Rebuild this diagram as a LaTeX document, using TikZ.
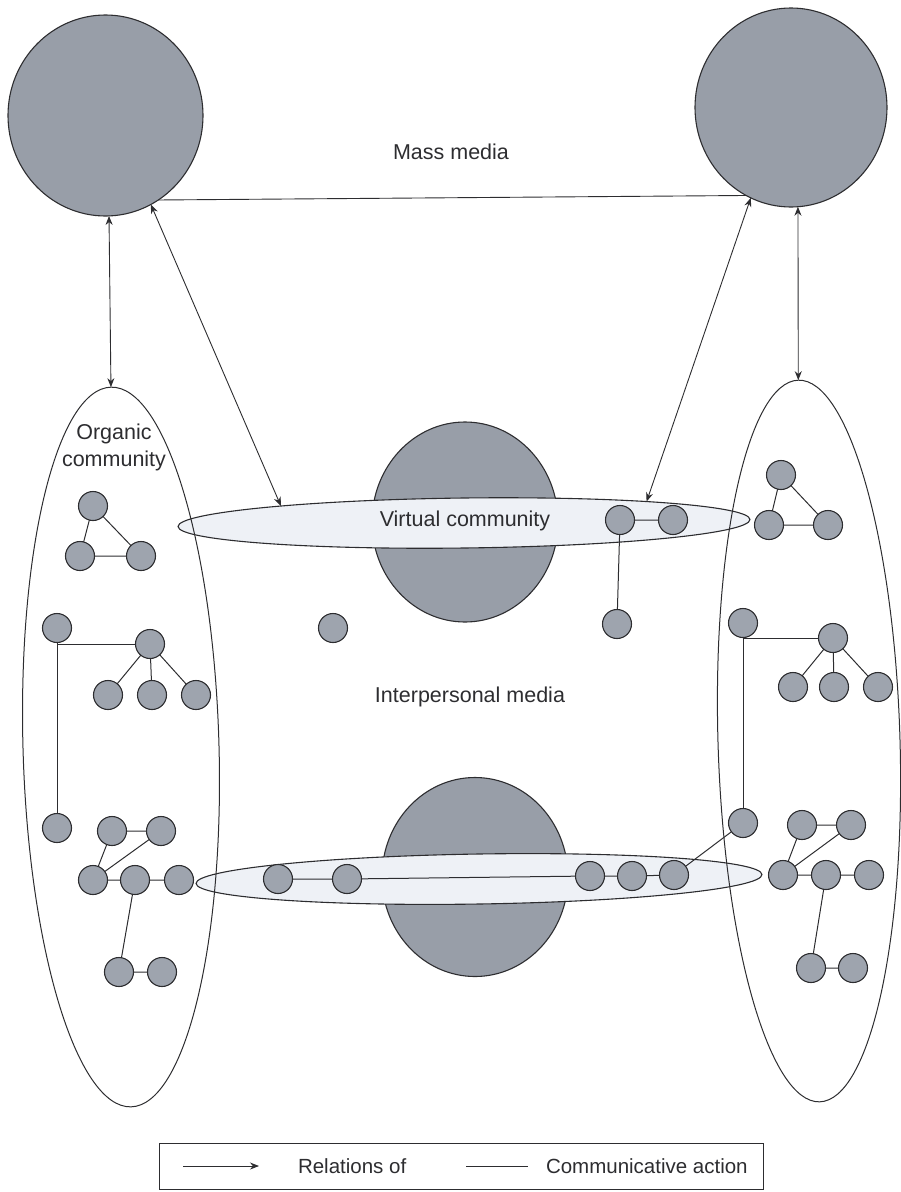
\documentclass[tikz,border=0pt]{standalone}
\usepackage{fontspec}
\setmainfont{Liberation Sans}
\usetikzlibrary{arrows.meta,shapes.geometric}

\definecolor{bigfill}{RGB}{152,158,168}
\definecolor{dotfill}{RGB}{158,164,174}
\definecolor{ringfill}{RGB}{238,241,246}
\definecolor{ink}{RGB}{45,45,48}

\begin{document}
\begin{tikzpicture}[x=1pt,y=-1pt,
  every node/.style={inner sep=0pt, outer sep=0pt},
  mediumdisc/.style={ellipse, draw=ink, line width=1.1pt, fill=bigfill},
  ringband/.style={ellipse, draw=ink, line width=1.1pt, fill=ringfill},
  commbound/.style={ellipse, draw=ink, line width=1pt},
  actordot/.style={circle, draw=ink, line width=1.1pt, fill=dotfill, minimum size=29pt},
  actlink/.style={draw=ink, line width=1pt},
  relarrow/.style={draw=ink, line width=0.9pt, {Stealth[length=9pt,width=7pt]}-{Stealth[length=9pt,width=7pt]}},
  lbltext/.style={font=\fontsize{21.5}{27}\selectfont, text=ink},
  legtext/.style={font=\fontsize{20.5}{24}\selectfont, text=ink}
]
\useasboundingbox (0,0) rectangle (901,1192);

% mass media
\node[mediumdisc, minimum width=195pt, minimum height=201pt] (mmL) at (105.5,115.5) {};
\node[mediumdisc, minimum width=192pt, minimum height=199pt] (mmR) at (791,107.5) {};

% interpersonal media discs
\node[mediumdisc, minimum width=186pt, minimum height=200pt] (ipU) at (465,522) {};
\node[mediumdisc, minimum width=186pt, minimum height=199pt] (ipD) at (475,877) {};

% virtual community bands
\node[ringband, minimum width=572pt, minimum height=50pt, rotate=0.7] (virt) at (464,523) {};
\node[ringband, minimum width=566pt, minimum height=50pt, rotate=0.9] (chain) at (479,879) {};

% organic communities
\node[commbound, minimum width=196pt, minimum height=720pt, rotate=1.6] (orgL) at (121,747) {};
\node[commbound, minimum width=182pt, minimum height=722pt, rotate=1.7] (orgR) at (809,741) {};

% labels
\node[lbltext] (massT) at (451,152) {Mass media};
\node[lbltext, align=center] (orgT) at (114,447) {Organic\\community};
\node[lbltext] (virtT) at (465,521) {Virtual community};
\node[lbltext] (ipT) at (470,697) {Interpersonal media};

% relations
\draw[draw=ink, line width=0.9pt] (mmL.-58) -- (mmR.-117);
\draw[relarrow] (mmL.-88) -- (orgL.north);
\draw[relarrow] (mmL.-63) -- (virt.174.5);
\draw[relarrow] (mmR.-114) -- (virt.6);
\draw[relarrow] (mmR.-86) -- (orgR.north);

% left community actors
\node[actordot] (lt1) at (93,506) {};
\node[actordot] (lt2) at (80,556) {};
\node[actordot] (lt3) at (141,556) {};
\node[actordot] (la) at (57,628) {};
\node[actordot] (lb) at (150,644) {};
\node[actordot] (lc1) at (108,695) {};
\node[actordot] (lc2) at (152,695) {};
\node[actordot] (lc3) at (196,695) {};
\node[actordot] (ld) at (57,828) {};
\node[actordot] (lp1) at (112,831) {};
\node[actordot] (lp2) at (161,831) {};
\node[actordot] (lr1) at (93,880) {};
\node[actordot] (lr2) at (135,880) {};
\node[actordot] (lr3) at (179,880) {};
\node[actordot] (lq1) at (119,972) {};
\node[actordot] (lq2) at (162,972) {};

% virtual and interpersonal actors
\node[actordot] (v1) at (620,520) {};
\node[actordot] (v2) at (673,520) {};
\node[actordot] (v3) at (617,624) {};
\node[actordot] (w1) at (333,628) {};
\node[actordot] (m1) at (278,879) {};
\node[actordot] (m2) at (347,879) {};
\node[actordot] (m3) at (590,876) {};
\node[actordot] (m4) at (632,876) {};
\node[actordot] (m5) at (674,875) {};

% right community actors
\node[actordot] (rt1) at (781,475) {};
\node[actordot] (rt2) at (769,525) {};
\node[actordot] (rt3) at (828,525) {};
\node[actordot] (ra) at (743,623) {};
\node[actordot] (rb) at (833,638) {};
\node[actordot] (rc1) at (793,687) {};
\node[actordot] (rc2) at (834,687) {};
\node[actordot] (rc3) at (878,687) {};
\node[actordot] (rd) at (743,823) {};
\node[actordot] (rp1) at (802,825) {};
\node[actordot] (rp2) at (851,825) {};
\node[actordot] (rr1) at (783,875) {};
\node[actordot] (rr2) at (826,875) {};
\node[actordot] (rr3) at (869,875) {};
\node[actordot] (rq1) at (811,968) {};
\node[actordot] (rq2) at (853,968) {};

% communicative action
\draw[actlink] (lt1) -- (lt2) (lt1) -- (lt3) (lt2) -- (lt3);
\draw[actlink] (la) |- (lb) (la) -- (ld);
\draw[actlink] (lb) -- (lc1) (lb) -- (lc2) (lb) -- (lc3);
\draw[actlink] (lp1) -- (lp2) (lp1) -- (lr1) (lp2) -- (lr1);
\draw[actlink] (lr1) -- (lr2) (lr2) -- (lr3) (lr2) -- (lq1) (lq1) -- (lq2);

\draw[actlink] (v1) -- (v2) (v1) -- (v3);
\draw[actlink] (m1) -- (m2) (m2) -- (m3) (m3) -- (m4) (m4) -- (m5) (m5) -- (rd);

\draw[actlink] (rt1) -- (rt2) (rt1) -- (rt3) (rt2) -- (rt3);
\draw[actlink] (ra) |- (rb) (ra) -- (rd);
\draw[actlink] (rb) -- (rc1) (rb) -- (rc2) (rb) -- (rc3);
\draw[actlink] (rp1) -- (rp2) (rp1) -- (rr1) (rp2) -- (rr1);
\draw[actlink] (rr1) -- (rr2) (rr2) -- (rr3) (rr2) -- (rq1) (rq1) -- (rq2);

% legend
\node[draw=ink, line width=0.9pt, minimum width=604pt, minimum height=46pt] (legend) at (461,1166) {};
\coordinate (legA1) at (183,1166);
\coordinate (legA2) at (259,1166);
\draw[draw=ink, line width=0.9pt, -{Stealth[length=9pt,width=7pt]}] (legA1) -- (legA2);
\node[legtext, anchor=west] (legT1) at (298,1166) {Relations of};
\coordinate (legL1) at (466,1166);
\coordinate (legL2) at (528,1166);
\draw[draw=ink, line width=0.9pt] (legL1) -- (legL2);
\node[legtext, anchor=west] (legT2) at (546,1166) {Communicative action};
\end{tikzpicture}
\end{document}
